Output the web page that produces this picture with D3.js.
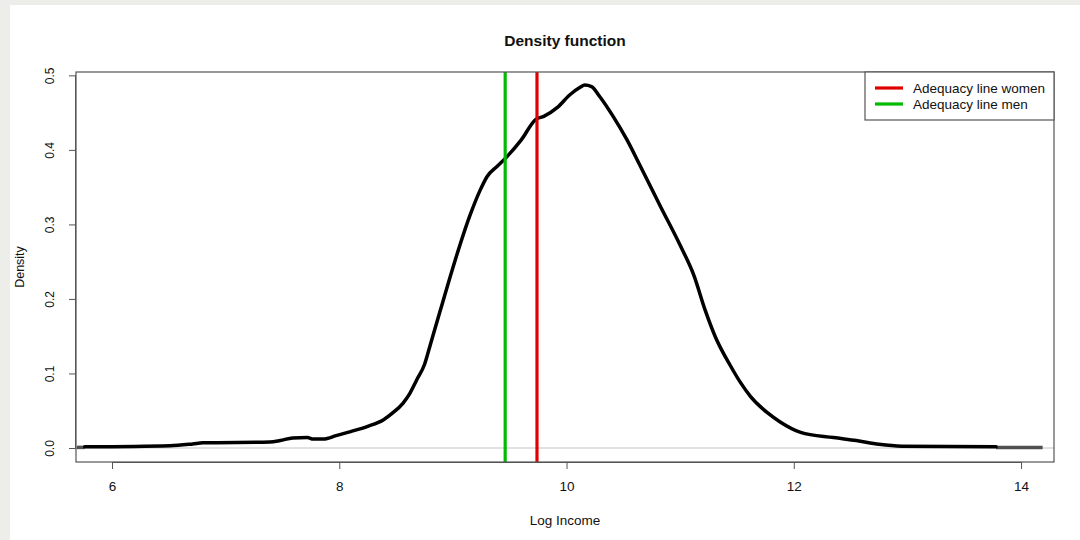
<!DOCTYPE html>
<html>
<head>
<meta charset="utf-8">
<script src="https://cdn.jsdelivr.net/npm/d3@7/dist/d3.min.js"></script>
<style>
  html, body { margin: 0; padding: 0; background: #ededea; }
  svg { display: block; }
  text { font-family: "Liberation Sans", Arial, sans-serif; fill: #111; }
</style>
</head>
<body>
<script>
// ---- data ----
const densityX = [5.76, 6.51, 6.71, 6.80, 7.39, 7.48, 7.59, 7.72, 7.77, 7.86, 7.98, 8.10, 8.25, 8.39, 8.47, 8.56, 8.62, 8.68, 8.75, 8.80, 8.89, 9.02, 9.15, 9.24, 9.30, 9.39, 9.47, 9.60, 9.73, 9.80, 9.92, 10.03, 10.12, 10.16, 10.22, 10.29, 10.41, 10.53, 10.65, 10.83, 11.00, 11.12, 11.22, 11.31, 11.44, 11.53, 11.62, 11.77, 11.88, 12.06, 12.35, 12.55, 12.75, 12.95, 13.78];
const densityY = [0.0015, 0.003, 0.0055, 0.007, 0.008, 0.010, 0.0135, 0.014, 0.012, 0.012, 0.017, 0.022, 0.029, 0.038, 0.047, 0.060, 0.073, 0.091, 0.112, 0.138, 0.185, 0.252, 0.312, 0.346, 0.364, 0.378, 0.390, 0.413, 0.441, 0.445, 0.457, 0.474, 0.484, 0.487, 0.485, 0.472, 0.445, 0.414, 0.378, 0.323, 0.272, 0.232, 0.185, 0.149, 0.111, 0.088, 0.069, 0.047, 0.035, 0.021, 0.014, 0.010, 0.005, 0.0025, 0.0015];
const leftTailX = [5.69, 5.76];
const rightTailX = [13.78, 14.19];
const tailY = [0.0008, 0.0008];
const adequacyLines = [
  { label: "Adequacy line women", value: 9.74, color: "#e00000" },
  { label: "Adequacy line men", value: 9.46, color: "#00bb00" }
];
const xTicks = [6, 8, 10, 12, 14];
const yTicks = [0.0, 0.1, 0.2, 0.3, 0.4, 0.5];
const titleText = "Density function";
const xLabel = "Log Income";
const yLabel = "Density";

// ---- layout ----
const W = 1080, H = 540;
const L = 76, R = 1054, T = 72, B = 462;

const svg = d3.select("body").append("svg").attr("width", W).attr("height", H);
svg.append("rect").attr("x", 0).attr("y", 0).attr("width", W).attr("height", H).attr("fill", "#ededea");
svg.append("rect").attr("x", 10).attr("y", 5).attr("width", W - 10).attr("height", H - 5).attr("fill", "#ffffff");

const x = d3.scaleLinear().domain([5.683, 14.29]).range([L, R]);
const y = d3.scaleLinear().domain([-0.0188, 0.5045]).range([B, T]);

svg.append("defs").append("clipPath").attr("id", "clip")
  .append("rect").attr("x", L).attr("y", T).attr("width", R - L).attr("height", B - T);
const plot = svg.append("g").attr("clip-path", "url(#clip)");

// zero line
plot.append("line").attr("x1", L).attr("x2", R).attr("y1", y(0)).attr("y2", y(0))
  .attr("stroke", "#c4c4c4").attr("stroke-width", 1.2);

const line = d3.line().x(d => x(d[0])).y(d => y(d[1])).curve(d3.curveMonotoneX);

// tails (gray-ish where curve meets the zero line)
[leftTailX, rightTailX].forEach(tx => {
  plot.append("path").datum(tx.map((v, i) => [v, tailY[i]]))
    .attr("d", d3.line().x(d => x(d[0])).y(d => y(d[1])))
    .attr("fill", "none").attr("stroke", "#505050").attr("stroke-width", 3.5);
});

// density curve
plot.append("path").datum(densityX.map((v, i) => [v, densityY[i]]))
  .attr("d", line).attr("fill", "none").attr("stroke", "#000").attr("stroke-width", 3.5)
  .attr("stroke-linejoin", "round").attr("stroke-linecap", "round");

// adequacy lines
adequacyLines.forEach(a => {
  plot.append("line").attr("x1", x(a.value)).attr("x2", x(a.value)).attr("y1", T).attr("y2", B)
    .attr("stroke", a.color).attr("stroke-width", 3.2);
});

// frame
svg.append("rect").attr("x", L).attr("y", T).attr("width", R - L).attr("height", B - T)
  .attr("fill", "none").attr("stroke", "#555").attr("stroke-width", 1.2);

// x axis
const xAxis = d3.axisBottom(x).tickValues(xTicks).tickSize(7).tickPadding(12).tickFormat(d3.format("d"));
const gx = svg.append("g").attr("transform", `translate(0,${B})`).call(xAxis);
gx.select(".domain").attr("d", `M${x(6)},0.5H${x(14)}`).attr("stroke", "#555");
gx.selectAll(".tick line").attr("stroke", "#555");
gx.selectAll(".tick text").attr("font-size", 13.5).attr("font-family", "Liberation Sans, Arial, sans-serif").attr("fill", "#222");

// y axis
const yAxis = d3.axisLeft(y).tickValues(yTicks).tickSize(7).tickFormat(d3.format(".1f"));
const gy = svg.append("g").attr("transform", `translate(${L},0)`).call(yAxis);
gy.select(".domain").attr("d", `M-0.5,${y(0)}V${y(0.5)}`).attr("stroke", "#555");
gy.selectAll(".tick line").attr("stroke", "#555");
gy.selectAll(".tick text")
  .attr("font-size", 12).attr("font-family", "Liberation Sans, Arial, sans-serif").attr("fill", "#222")
  .attr("x", null).attr("dy", null)
  .attr("text-anchor", "middle")
  .attr("transform", "translate(-26,0) rotate(-90)")
  .attr("dominant-baseline", "central");

// title and axis labels
svg.append("text").attr("x", (L + R) / 2).attr("y", 46).attr("text-anchor", "middle")
  .attr("font-size", 15.5).attr("font-weight", "bold").text(titleText);
svg.append("text").attr("x", (L + R) / 2).attr("y", 525).attr("text-anchor", "middle")
  .attr("font-size", 13.5).attr("fill", "#222").text(xLabel);
svg.append("text").attr("transform", `translate(24,${(T + B) / 2}) rotate(-90)`).attr("text-anchor", "middle")
  .attr("font-size", 12.5).attr("fill", "#222").text(yLabel);

// legend
const lg = svg.append("g");
lg.append("rect").attr("x", 865).attr("y", T).attr("width", R - 865).attr("height", 48)
  .attr("fill", "#fff").attr("stroke", "#555").attr("stroke-width", 1.2);
adequacyLines.forEach((a, i) => {
  const yy = 88 + i * 16;
  lg.append("line").attr("x1", 875).attr("x2", 903).attr("y1", yy).attr("y2", yy)
    .attr("stroke", a.color).attr("stroke-width", 3.2);
  lg.append("text").attr("x", 913).attr("y", yy).attr("dominant-baseline", "central")
    .attr("font-size", 13.5).attr("fill", "#222").text(a.label);
});
</script>
</body>
</html>
